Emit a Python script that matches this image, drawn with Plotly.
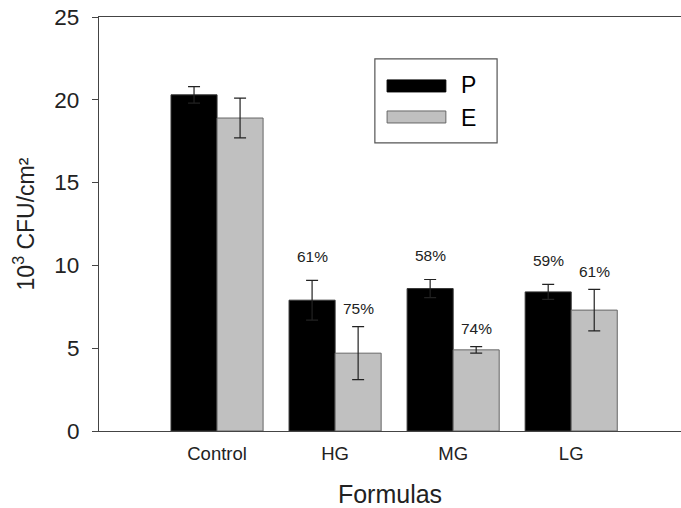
import plotly.graph_objects as go

categories = ["Control", "HG", "MG", "LG"]
p_values = [20.3, 7.9, 8.6, 8.4]
p_err = [0.5, 1.2, 0.55, 0.45]
e_values = [18.9, 4.7, 4.9, 7.3]
e_err = [1.2, 1.6, 0.2, 1.25]
p_labels = ["", "61%", "58%", "59%"]
e_labels = ["", "75%", "74%", "61%"]
y_ticks = [0, 5, 10, 15, 20, 25]

xpos = list(range(len(categories)))
FONT = "Liberation Sans, Arial, sans-serif"

fig = go.Figure()
fig.add_trace(go.Bar(
    x=xpos, y=p_values, name="P",
    marker=dict(color="black", line=dict(color="#333333", width=1)),
    error_y=dict(type="data", array=p_err, color="#222222", thickness=1.2, width=6),
))
fig.add_trace(go.Bar(
    x=xpos, y=e_values, name="E",
    marker=dict(color="#c0c0c0", line=dict(color="#666666", width=1)),
    error_y=dict(type="data", array=e_err, color="#222222", thickness=1.2, width=6),
))

# percentage annotations
off = 0.195
for i, (pl, el) in enumerate(zip(p_labels, e_labels)):
    if pl:
        fig.add_annotation(x=i - off, y=p_values[i] + p_err[i], text=pl, showarrow=False,
                           yshift=24, font=dict(size=15.5, color="#222222", family=FONT))
    if el:
        fig.add_annotation(x=i + off, y=e_values[i] + e_err[i], text=el, showarrow=False,
                           yshift=18, font=dict(size=15.5, color="#222222", family=FONT))

# custom legend
fig.add_shape(type="rect", xref="paper", yref="paper", x0=0.474, x1=0.684, y0=0.696, y1=0.899,
              line=dict(color="#555555", width=1.2), fillcolor="white")
fig.add_shape(type="rect", xref="paper", yref="paper", x0=0.495, x1=0.596, y0=0.819, y1=0.848,
              line=dict(color="black", width=1), fillcolor="black")
fig.add_shape(type="rect", xref="paper", yref="paper", x0=0.495, x1=0.596, y0=0.744, y1=0.773,
              line=dict(color="#666666", width=1), fillcolor="#c0c0c0")
fig.add_annotation(xref="paper", yref="paper", x=0.618, y=0.836, text="P", showarrow=False,
                   xanchor="left", yanchor="middle", font=dict(size=23, color="black", family=FONT))
fig.add_annotation(xref="paper", yref="paper", x=0.618, y=0.756, text="E", showarrow=False,
                   xanchor="left", yanchor="middle", font=dict(size=23, color="black", family=FONT))

fig.update_layout(
    width=681, height=508,
    margin=dict(l=99, r=0, t=17, b=77),
    plot_bgcolor="white", paper_bgcolor="white",
    barmode="group", bargap=0.22, bargroupgap=0.0,
    showlegend=False,
    font=dict(family=FONT, color="#222222"),
    xaxis=dict(
        range=[-1.0, 3.93], tickmode="array", tickvals=xpos, ticktext=categories,
        showline=True, linecolor="#444444", linewidth=1.2, mirror=True,
        ticks="", showgrid=False, zeroline=False, automargin=False,
        ticklabelstandoff=6,
        tickfont=dict(size=18.5, color="#222222"),
        title=dict(text="Formulas", font=dict(size=25, color="#222222"), standoff=24),
    ),
    yaxis=dict(
        range=[0, 25], tickvals=y_ticks,
        showline=True, linecolor="#444444", linewidth=1.2,
        ticks="outside", ticklen=6, tickcolor="#444444",
        showgrid=False, zeroline=False, automargin=False,
        ticklabelstandoff=8, ticklabeloverflow="allow",
        tickfont=dict(size=22.5, color="#222222"),
        title=dict(text="10<sup>3</sup> CFU/cm²", font=dict(size=23, color="#222222"), standoff=13),
    ),
)

fig.write_html(
    "out.html",
    config={"displayModeBar": False},
    post_script="document.body.style.margin='0';document.body.style.overflow='hidden';",
)
